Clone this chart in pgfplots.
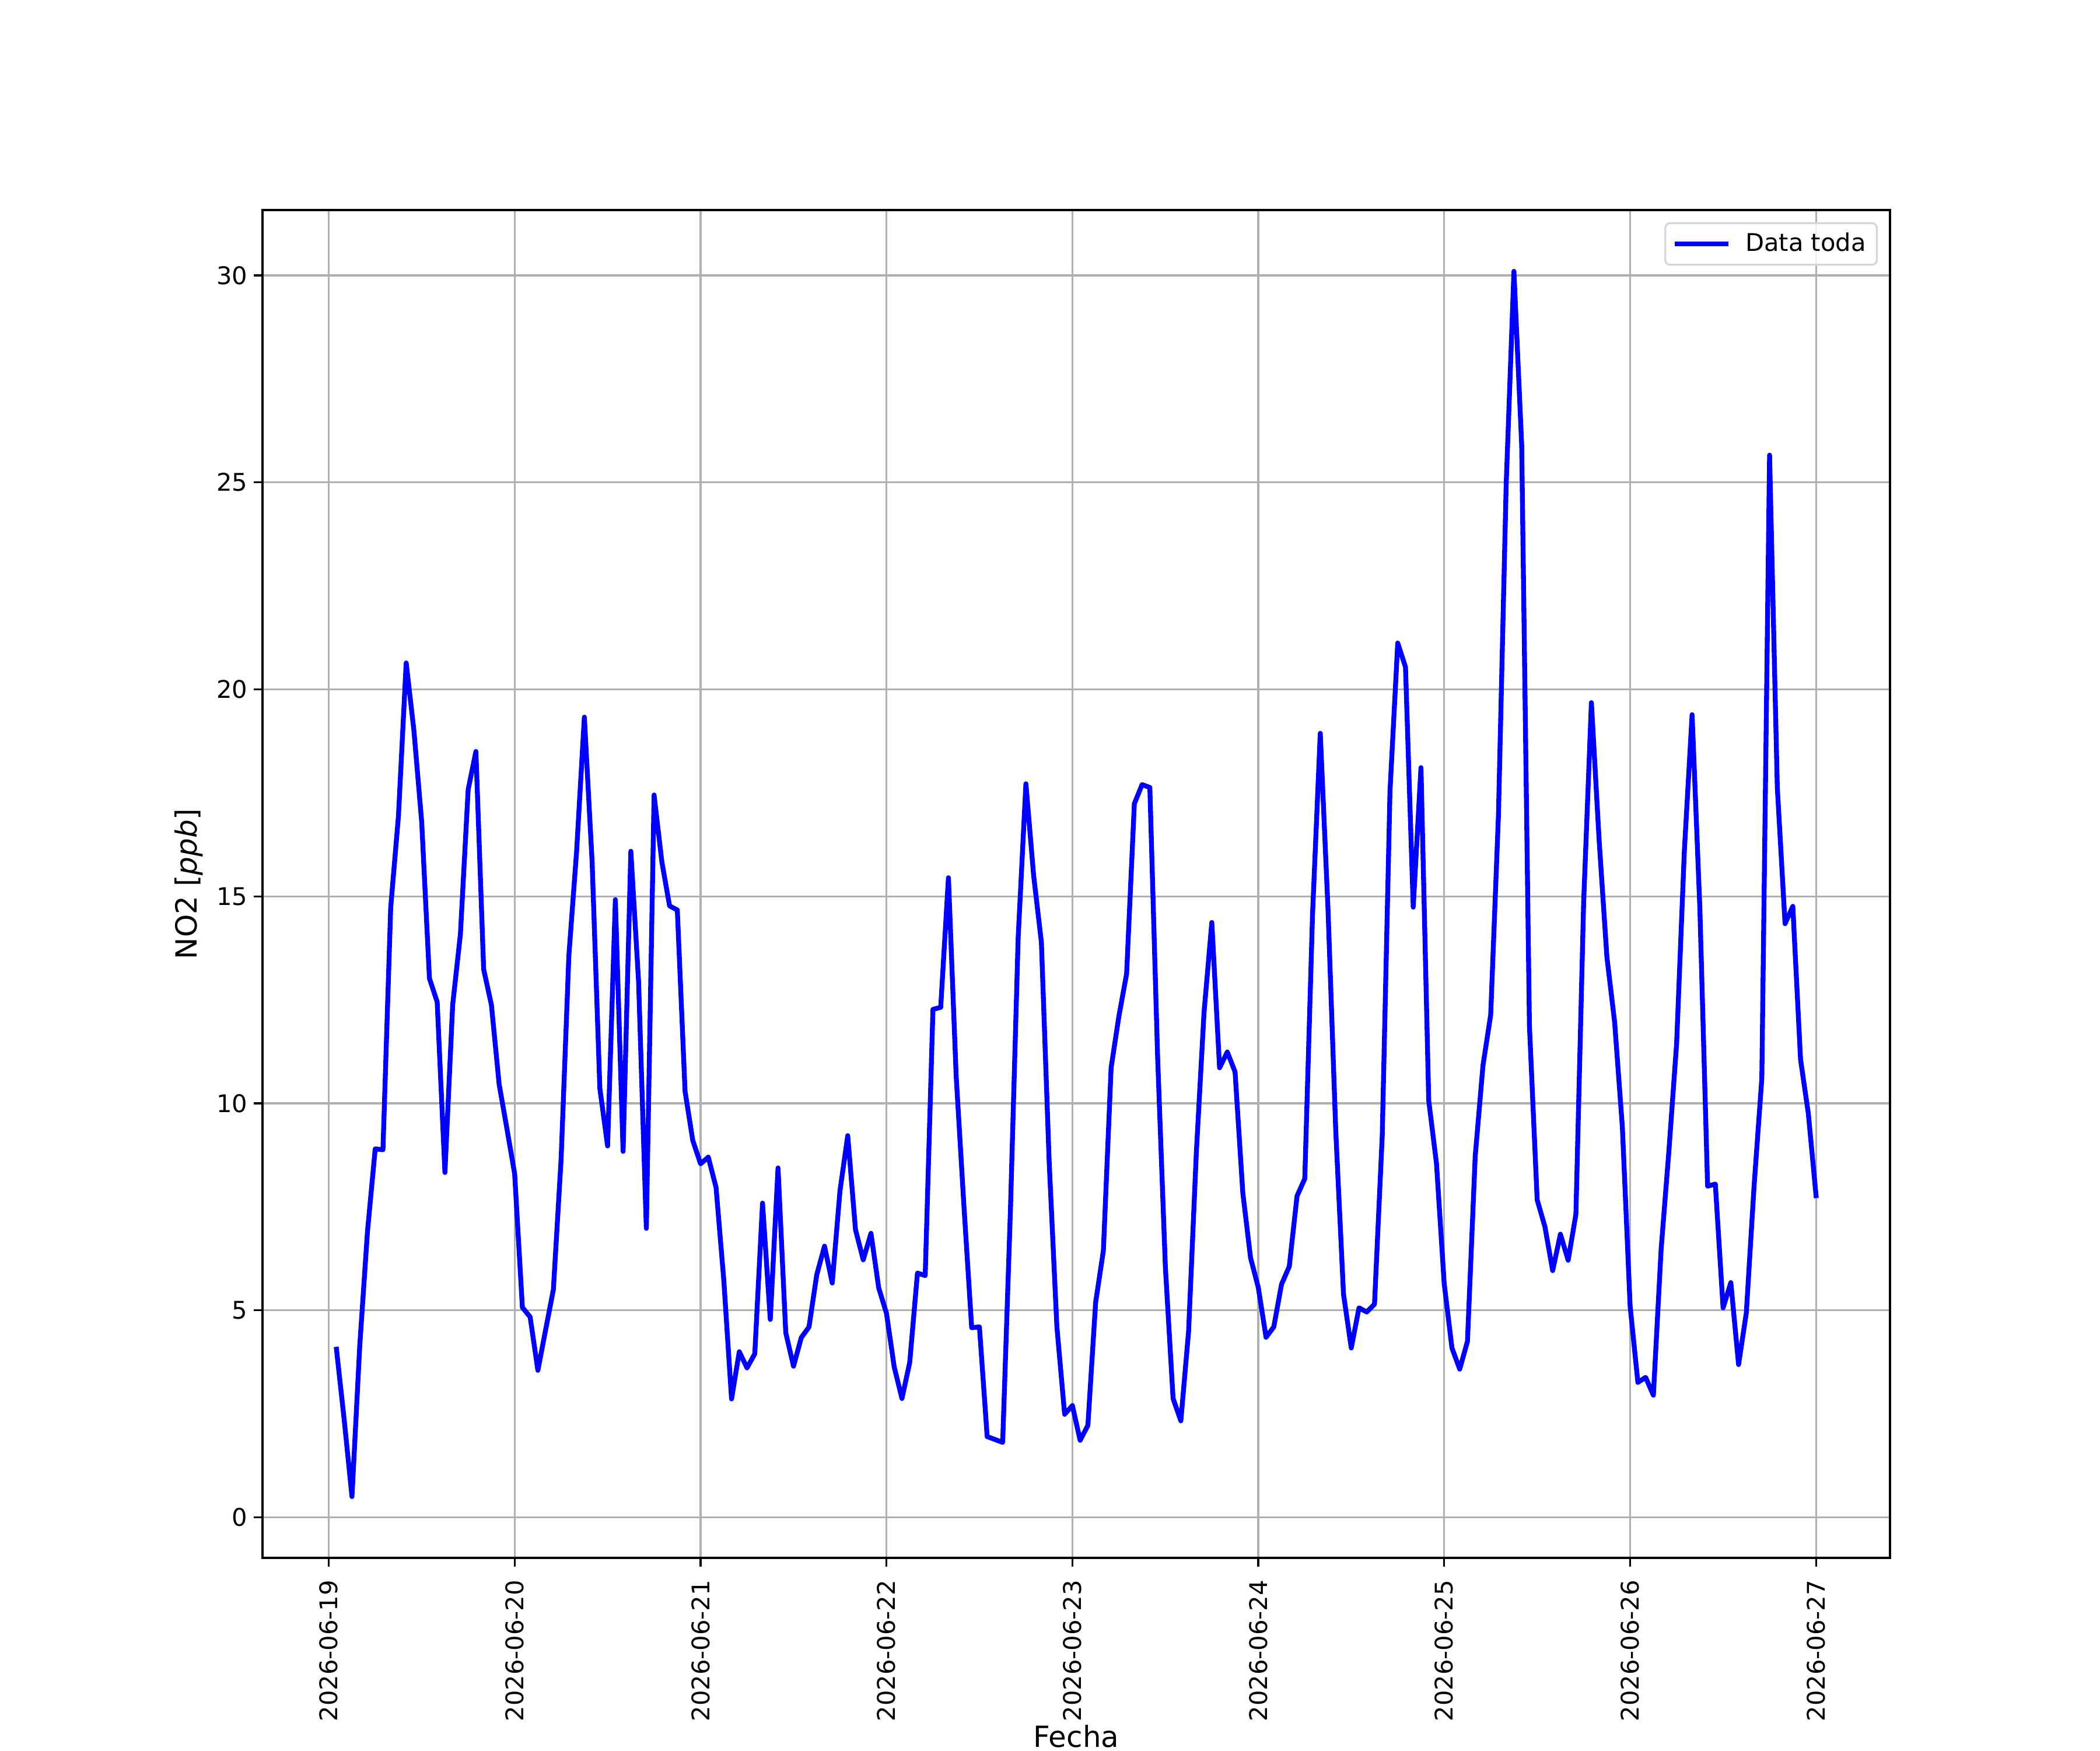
\documentclass[border=0pt]{standalone}
\usepackage{pgfplots}
\pgfplotsset{compat=1.18}
\usepackage{pgfplotstable}
\usepackage{fontspec}
\setmainfont{DejaVu Sans}
\definecolor{gridgray}{HTML}{B0B0B0}
\definecolor{legframe}{HTML}{D6D6D6}
\pgfplotstableread{
k v
1 4.06
2 2.35
3 0.50
4 4.13
5 6.90
6 8.90
7 8.88
8 14.73
9 16.94
10 20.64
11 19.00
12 16.80
13 13.02
14 12.45
15 8.33
16 12.38
17 14.09
18 17.58
19 18.50
20 13.24
21 12.38
22 10.46
23 9.39
24 8.30
25 5.07
26 4.84
27 3.55
28 4.53
29 5.50
30 8.66
31 13.57
32 16.09
33 19.33
34 15.84
35 10.36
36 8.97
37 14.92
38 8.84
39 16.09
40 12.94
41 6.98
42 17.45
43 15.84
44 14.77
45 14.67
46 10.29
47 9.10
48 8.54
49 8.70
50 7.97
51 5.73
52 2.86
53 4.00
54 3.61
55 3.95
56 7.59
57 4.78
58 8.44
59 4.46
60 3.65
61 4.34
62 4.60
63 5.86
64 6.55
65 5.66
66 7.89
67 9.22
68 6.95
69 6.22
70 6.86
71 5.54
72 4.93
73 3.63
74 2.87
75 3.74
76 5.90
77 5.84
78 12.27
79 12.32
80 15.45
81 10.65
82 7.52
83 4.58
84 4.60
85 1.95
86 1.88
87 1.81
88 7.41
89 14.00
90 17.72
91 15.50
92 13.89
93 8.60
94 4.60
95 2.49
96 2.70
97 1.86
98 2.22
99 5.19
100 6.44
101 10.86
102 12.10
103 13.13
104 17.24
105 17.70
106 17.63
107 11.13
108 6.06
109 2.87
110 2.33
111 4.49
112 8.81
113 12.21
114 14.37
115 10.86
116 11.24
117 10.76
118 7.84
119 6.27
120 5.55
121 4.35
122 4.60
123 5.63
124 6.06
125 7.76
126 8.18
127 14.56
128 18.94
129 14.68
130 9.33
131 5.39
132 4.09
133 5.06
134 4.96
135 5.15
136 9.22
137 17.54
138 21.12
139 20.54
140 14.74
141 18.11
142 10.07
143 8.55
144 5.64
145 4.09
146 3.58
147 4.25
148 8.72
149 10.91
150 12.14
151 16.96
152 24.95
153 30.10
154 25.91
155 11.88
156 7.67
157 7.02
158 5.96
159 6.84
160 6.21
161 7.32
162 14.86
163 19.68
164 16.35
165 13.54
166 11.96
167 9.42
168 5.10
169 3.26
170 3.38
171 2.95
172 6.47
173 8.84
174 11.44
175 16.10
176 19.39
177 14.72
178 8.00
179 8.05
180 5.06
181 5.67
182 3.69
183 4.94
184 8.00
185 10.60
186 25.66
187 17.63
188 14.34
189 14.76
190 11.06
191 9.76
192 7.77
}\datatoda
\begin{document}
\begin{tikzpicture}
\path[use as bounding box] (-108pt,-79.2pt) rectangle (756pt,640.8pt);
\begin{axis}[
  at={(0,0)}, anchor=south west,
  scale only axis,
  width=669.6pt, height=554.4pt,
  xmin=-8.55, xmax=201.55,
  ymin=-0.98, ymax=31.58,
  xtick={0,24,...,192},
  xticklabels={2026-06-19,2026-06-20,2026-06-21,2026-06-22,2026-06-23,2026-06-24,2026-06-25,2026-06-26,2026-06-27},
  ytick={0,5,...,30},
  /pgf/number format/assume math mode=true,
  tick align=outside,
  major tick length=3.5pt,
  every tick/.style={black, line width=0.8pt},
  tick pos=left,
  axis line style={black, line width=0.8pt},
  grid=major,
  major grid style={gridgray, line width=0.8pt},
  ticklabel style={font=\fontsize{10}{12}\selectfont},
  xticklabel style={rotate=90, anchor=east, inner sep=0pt},
  yticklabel style={anchor=east, inner sep=0pt},
  xticklabel shift=5.5pt,
  yticklabel shift=2.5pt,
  xlabel={Fecha},
  ylabel={NO2 [\textit{ppb}]},
  xlabel style={font=\fontsize{12}{14}\selectfont, at={(axis description cs:0.5,-0.1405)}, anchor=base, inner sep=0pt},
  ylabel style={font=\fontsize{12}{14}\selectfont, at={(axis description cs:-0.0402,0.5)}, anchor=base, inner sep=0pt, rotate=0},
  legend style={at={(rel axis cs:1,1)}, anchor=north east, xshift=-5pt, yshift=-5pt,
    draw=legframe, line width=0.8pt, rounded corners=2pt, fill=white, fill opacity=0.8, text opacity=1,
    font=\fontsize{10}{12}\selectfont, inner xsep=3pt, inner ysep=2.5pt,
    nodes={inner sep=1.5pt}},
  legend cell align=left,
  legend image code/.code={\draw[#1, line cap=butt] (0pt,0pt) -- (22pt,0pt); \path (26.5pt,0pt);},
]
\addplot[blue, line width=2pt, line join=round, line cap=rect] table[x=k, y=v] {\datatoda};
\addlegendentry{Data toda}
\end{axis}
\end{tikzpicture}
\end{document}
